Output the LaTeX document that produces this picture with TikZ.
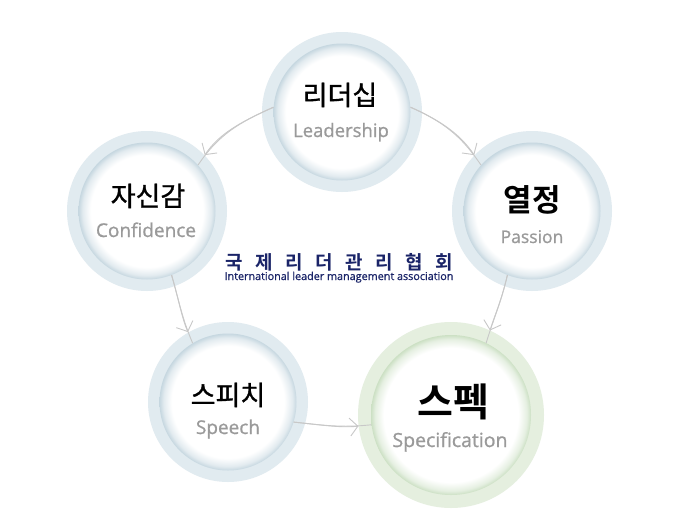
\documentclass[tikz,border=0pt]{standalone}
\usepackage{fontspec}
\setmainfont{Open Sans}[FakeBold=0.9]
\newfontfamily\kr{Noto Sans CJK KR}[FakeBold=1.2]
\newfontfamily\krb{Noto Sans CJK KR Bold}
\newfontfamily\lat{Open Sans}[FakeBold=0.9]
\usetikzlibrary{arrows.meta}
\definecolor{ringBlue}{HTML}{E1EBF0}
\definecolor{rimBlue}{HTML}{C6D7E0}
\definecolor{ringGreen}{HTML}{E5EFDF}
\definecolor{rimGreen}{HTML}{CCE0C4}
\definecolor{lineGray}{HTML}{C8C8C8}
\definecolor{labelGray}{HTML}{9A9A9A}
\definecolor{navy}{HTML}{1A2468}
\pgfdeclareradialshading{discblue}{\pgfpoint{0bp}{0bp}}{color(0bp)=(white); color(20.5bp)=(white); color(23.5bp)=(rimBlue!50); color(25bp)=(rimBlue); color(50bp)=(rimBlue)}
\pgfdeclareradialshading{discgreen}{\pgfpoint{0bp}{0bp}}{color(0bp)=(white); color(21bp)=(white); color(23.7bp)=(rimGreen!50); color(25bp)=(rimGreen); color(50bp)=(rimGreen)}
\tikzset{
  ringb/.style={circle, fill=ringBlue, minimum size=160pt, inner sep=0pt},
  discb/.style={circle, shading=discblue, minimum size=137pt, inner sep=0pt},
  ringg/.style={circle, fill=ringGreen, minimum size=186pt, inner sep=0pt},
  discg/.style={circle, shading=discgreen, minimum size=160pt, inner sep=0pt},
  conn/.style={draw=lineGray, line width=0.9pt},
  arrowtip/.style={-{Straight Barb[length=8pt,width=18pt,line width=0.9pt]}},
  kor/.style={anchor=base, text=black, inner sep=0pt},
  eng/.style={anchor=base, text=labelGray, inner sep=0pt},
}
\begin{document}
\begin{tikzpicture}[x=1pt,y=1pt]
\useasboundingbox[fill=white] (0,0) rectangle (679,-530);
% rings
\node[ringb] (ldrO) at (342,-112) {};
\node[ringb] (cnfO) at (147,-211) {};
\node[ringb] (pasO) at (532,-211) {};
\node[ringb] (spcO) at (228,-402) {};
\node[ringg] (speO) at (451,-415) {};
% discs
\node[discb] (ldr) at (342,-112) {};
\node[discb] (cnf) at (147,-211) {};
\node[discb] (pas) at (532,-211) {};
\node[discb] (spc) at (228,-402) {};
\node[discg] (spe) at (451,-415) {};
% connectors
\draw[conn] (ldr.176) to[out=204,in=56] (cnf.42);
\draw[conn,arrowtip,shorten >=12pt] (ldr.176) to[out=204,in=56] (cnf.42);
\draw[conn] (ldr.4) to[out=-24,in=124] (pas.138);
\draw[conn,arrowtip,shorten >=12pt] (ldr.4) to[out=-24,in=124] (pas.138);
\draw[conn] (cnf.291) to[out=286,in=113] (spc.121);
\draw[conn,arrowtip,shorten >=12pt] (cnf.291) to[out=286,in=113] (spc.121);
\draw[conn] (pas.249) to[out=257,in=73] (spe.64);
\draw[conn,arrowtip,shorten >=13pt] (pas.249) to[out=257,in=73] (spe.64);
\draw[conn] (spc.343) to[out=354,in=186] (spe.187);
\draw[conn,arrowtip,shorten >=13pt] (spc.343) to[out=354,in=186] (spe.187);
% labels
\node[kor, font=\kr\fontsize{27}{30}\selectfont] (k1) at (340,-105) {리더십};
\node[eng, font=\lat\fontsize{18.5}{22}\selectfont] (e1) at (341,-137) {Leadership};
\node[kor, font=\kr\fontsize{27}{30}\selectfont] (k2) at (148,-206) {자신감};
\node[eng, font=\lat\fontsize{19}{22}\selectfont] (e2) at (146,-237) {Confidence};
\node[kor, font=\krb\fontsize{31}{34}\selectfont] (k3) at (532,-211) {열정};
\node[eng, font=\lat\fontsize{17.5}{20}\selectfont] (e3) at (532,-243) {Passion};
\node[kor, font=\kr\fontsize{27}{30}\selectfont] (k4) at (228,-405) {스피치};
\node[eng, font=\lat\fontsize{19}{22}\selectfont] (e4) at (228,-434) {Speech};
\node[kor, font=\krb\fontsize{39}{42}\selectfont] (k5) at (453,-416) {스펙};
\node[eng, font=\lat\fontsize{19.5}{22}\selectfont] (e5) at (450,-447) {Specification};
% title
\node[anchor=base, text=navy, inner sep=0pt, font=\krb\fontsize{19}{22}\selectfont] (title) at (339,-269)
  {\makebox[228pt][s]{국\hfill 제\hfill 리\hfill 더\hfill 관\hfill 리\hfill 협\hfill 회}};
\node[anchor=base, text=navy, inner sep=0pt, font=\lat\fontsize{10.8}{12}\selectfont] (sub) at (339,-280)
  {International leader management association};
\end{tikzpicture}
\end{document}
